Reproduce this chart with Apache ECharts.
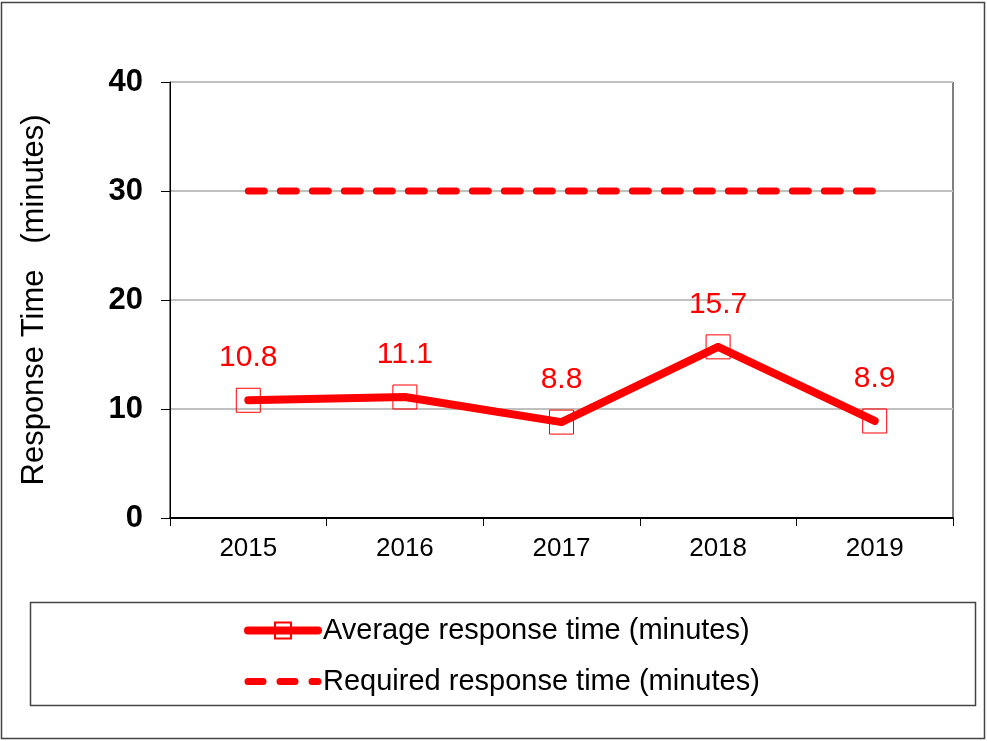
<!DOCTYPE html>
<html>
<head>
<meta charset="utf-8">
<script src="https://cdn.jsdelivr.net/npm/echarts@6/dist/echarts.min.js"></script>
<style>
  html, body { margin: 0; padding: 0; background: #fff; }
  #main { width: 987px; height: 741px; }
</style>
</head>
<body>
<div id="main"></div>
<script>
// data
var years = ['2015', '2016', '2017', '2018', '2019'];
var avgTime = [10.8, 11.1, 8.8, 15.7, 8.9];
var requiredTime = [30, 30, 30, 30, 30];
var yTicks = { min: 0, max: 40, interval: 10 };

var font = 'Arial, "Liberation Sans", sans-serif';
var myChart = echarts.init(document.getElementById('main'));

var option = {
    backgroundColor: '#fff',
    animation: false,
    textStyle: { fontFamily: font },
    graphic: [
        { type: 'rect', shape: { x: 1.5, y: 2.5, width: 983, height: 736 },
          style: { fill: 'none', stroke: '#444', lineWidth: 1.5 }, z: -1 },
        { type: 'rect', shape: { x: 30.5, y: 602.5, width: 945, height: 103 },
          style: { fill: 'none', stroke: '#444', lineWidth: 1.5 }, z: -1 }
    ],
    grid: {
        left: 170, right: 34, top: 82, bottom: 223,
        show: true, borderColor: '#000', borderWidth: 1
    },
    legend: {
        orient: 'vertical',
        left: 239, top: 611,
        itemWidth: 70, itemHeight: 20, itemGap: 22,
        textStyle: { fontSize: 29, color: '#000', fontFamily: font },
        data: [
            {
                name: 'Average response time (minutes)',
                lineStyle: { width: 8, cap: 'round' }
            },
            {
                name: 'Required response time (minutes)',
                lineStyle: { width: 7, cap: 'round', type: [15, 17] },
                itemStyle: { color: 'rgba(255,255,255,0)', borderWidth: 0 }
            }
        ]
    },
    xAxis: {
        type: 'category',
        data: years,
        boundaryGap: true,
        axisLine: { lineStyle: { color: '#000', width: 2 } },
        axisTick: { show: true, length: 8, lineStyle: { color: '#000' } },
        axisLabel: { fontSize: 26, color: '#000', margin: 18 }
    },
    yAxis: {
        type: 'value',
        min: yTicks.min, max: yTicks.max, interval: yTicks.interval,
        name: 'Response Time   (minutes)',
        nameLocation: 'middle',
        nameRotate: 90,
        nameGap: 120,
        nameTextStyle: { fontSize: 31, color: '#000' },
        axisLine: { show: true, lineStyle: { color: '#000' } },
        axisTick: { show: true, length: 9, lineStyle: { color: '#000' } },
        axisLabel: { fontSize: 31, fontWeight: 'bold', color: '#000', margin: 27 },
        splitLine: { lineStyle: { color: '#c0c0c0', width: 2 } }
    },
    series: [
        {
            name: 'Average response time (minutes)',
            type: 'line',
            data: avgTime,
            symbol: 'rect',
            symbolSize: 24,
            lineStyle: { color: '#ff0000', width: 8, cap: 'round', join: 'round' },
            itemStyle: { color: 'rgba(255,255,255,0)', borderColor: '#ff0000', borderWidth: 1 },
            label: { show: true, position: 'top', distance: 15, fontSize: 30, color: '#ff0000' },
            z: 3
        },
        {
            name: 'Required response time (minutes)',
            type: 'line',
            data: requiredTime,
            symbol: 'none',
            showSymbol: false,
            lineStyle: { color: '#ff0000', width: 7, type: [16, 16], cap: 'round' },
            itemStyle: { color: '#ff0000' },
            z: 2
        }
    ]
};

myChart.setOption(option);
</script>
</body>
</html>
